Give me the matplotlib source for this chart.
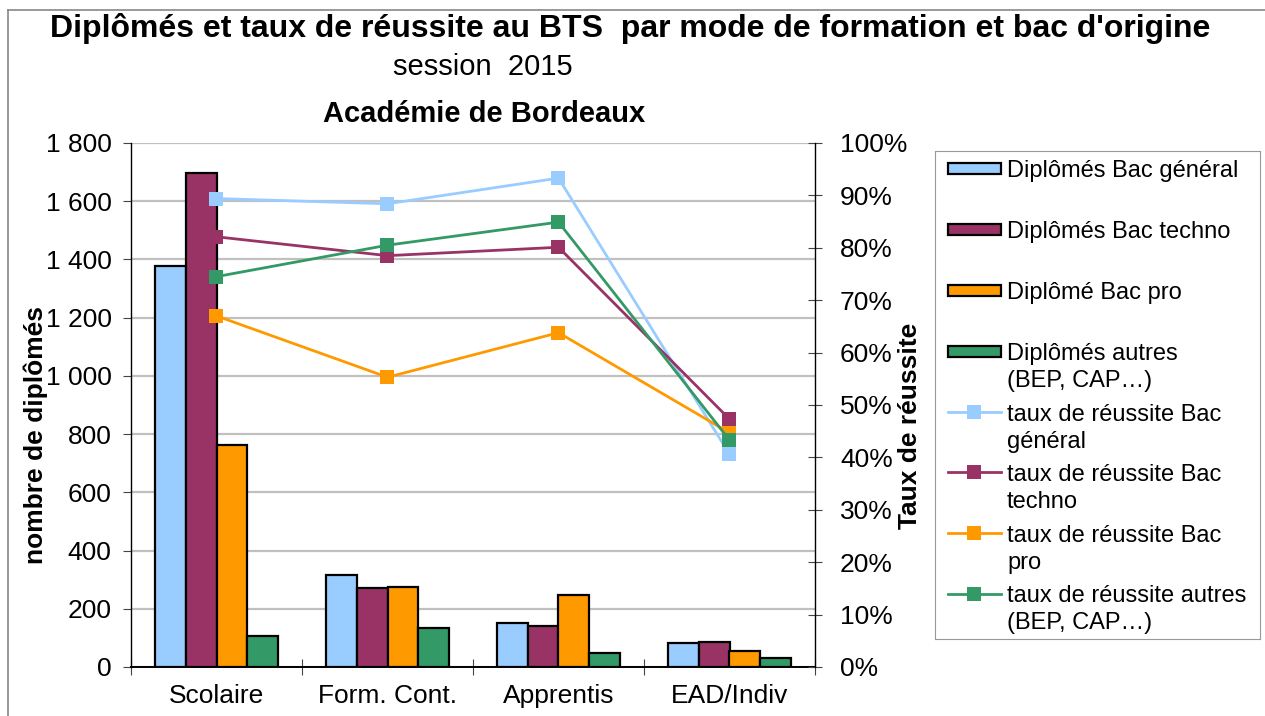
import matplotlib
matplotlib.use("Agg")
import matplotlib.pyplot as plt
import numpy as np
from matplotlib.lines import Line2D
from matplotlib.patches import Rectangle
from matplotlib.ticker import FuncFormatter, PercentFormatter, MultipleLocator, FixedLocator

plt.rcParams['font.family'] = ['Liberation Sans', 'DejaVu Sans']

categories = ["Scolaire", "Form. Cont.", "Apprentis", "EAD/Indiv"]

dipl_general = [1378, 317, 151, 82]
dipl_techno = [1697, 270, 140, 86]
dipl_pro = [763, 276, 247, 54]
dipl_autres = [106, 135, 48, 32]

taux_general = [0.894, 0.884, 0.933, 0.406]
taux_techno = [0.821, 0.785, 0.801, 0.473]
taux_pro = [0.670, 0.553, 0.638, 0.447]
taux_autres = [0.745, 0.805, 0.849, 0.433]

bar_labels = ["Diplômés Bac général", "Diplômés Bac techno", "Diplômé Bac pro",
              "Diplômés autres\n(BEP, CAP…)"]
line_labels = ["taux de réussite Bac\ngénéral", "taux de réussite Bac\ntechno",
               "taux de réussite Bac\npro", "taux de réussite autres\n(BEP, CAP…)"]
colors = ["#99CCFF", "#993366", "#FF9900", "#339966"]

W, H = 1265, 716
fig = plt.figure(figsize=(W / 100, H / 100), dpi=100)

def fx(px):
    return px / W

def fy(py):
    return 1 - py / H

ax = fig.add_axes([fx(131), fy(667), fx(815 - 131), (667 - 143) / H])
x = np.arange(len(categories))
bw = 0.18
bars = [dipl_general, dipl_techno, dipl_pro, dipl_autres]
for i, (vals, c) in enumerate(zip(bars, colors)):
    ax.bar(x + (i - 1.5) * bw, vals, bw, color=c, edgecolor="black", linewidth=1.6, zorder=3)

ax.set_xlim(-0.5, 3.5)
ax.set_ylim(0, 1800)
ax.yaxis.set_major_locator(MultipleLocator(200))
ax.yaxis.set_major_formatter(FuncFormatter(lambda v, p: f"{int(v):,}".replace(",", " ")))
ax.grid(axis="y", color="#c0c0c0", linewidth=1.6, zorder=0)
ax.set_axisbelow(True)
ax.set_xticks(x)
ax.set_xticklabels(categories)
ax.xaxis.set_minor_locator(FixedLocator(np.arange(-0.5, 4, 1)))
ax.tick_params(axis="x", which="major", length=0, labelsize=19, pad=12)
ax.tick_params(axis="x", which="minor", direction="inout", length=12, width=0.8, color="#444444")
ax.tick_params(axis="y", which="major", direction="out", length=6, width=0.8, labelsize=19, pad=8,
               color="#444444")
ax.spines["top"].set_visible(False)
ax.spines["left"].set_linewidth(1.0)
ax.spines["bottom"].set_linewidth(1.4)
ax.spines["right"].set_visible(False)

ax2 = ax.twinx()
taux = [taux_general, taux_techno, taux_pro, taux_autres]
for vals, c in zip(taux, colors):
    ax2.plot(x, vals, color=c, linewidth=2, marker="s", markersize=10.5,
             markeredgewidth=0, zorder=4)
ax2.set_ylim(0, 1)
ax2.yaxis.set_major_locator(MultipleLocator(0.1))
ax2.yaxis.set_major_formatter(PercentFormatter(1.0, decimals=0))
ax2.tick_params(axis="y", direction="inout", length=10, width=0.8, labelsize=19, pad=13,
                color="#444444")
ax2.spines["top"].set_visible(False)
ax2.spines["left"].set_visible(False)
ax2.spines["bottom"].set_visible(False)
ax2.spines["right"].set_linewidth(1.0)

# axis titles
fig.text(fx(36), fy(435), "nombre de diplômés", rotation=90, ha="center", va="center",
         fontsize=19, fontweight="bold")
fig.text(fx(910), fy(426), "Taux de réussite", rotation=90, ha="center", va="center",
         fontsize=19, fontweight="bold")

# titles
fig.text(fx(630), fy(28), "Diplômés et taux de réussite au BTS  par mode de formation et bac d'origine",
         ha="center", va="center", fontsize=23, fontweight="bold")
fig.text(fx(483), fy(67), "session  2015", ha="center", va="center", fontsize=21)
fig.text(fx(484), fy(114), "Académie de Bordeaux", ha="center", va="center", fontsize=21,
         fontweight="bold")

# figure border (top and left)
fig.add_artist(Line2D([fx(8), 1], [fy(10), fy(10)], color="#888888", linewidth=1.2))
fig.add_artist(Line2D([fx(8), fx(8)], [fy(10), 0], color="#888888", linewidth=1.2))

# legend drawn manually
lx0, ly0, lx1, ly1 = 935, 151, 1260, 639
lax = fig.add_axes([fx(lx0), fy(ly1), fx(lx1 - lx0), (ly1 - ly0) / H])
lax.set_xlim(0, lx1 - lx0)
lax.set_ylim(ly1 - ly0, 0)
lax.set_xticks([])
lax.set_yticks([])
for s in lax.spines.values():
    s.set_color("#999999")
    s.set_linestyle((0, (1, 1)))
    s.set_linewidth(0.8)
row_y = [17, 78, 139, 200, 261, 321, 382, 443]
line_h = 27
for i in range(4):
    yy = row_y[i]
    lax.add_patch(Rectangle((13, yy - 5.5), 53, 11, facecolor=colors[i], edgecolor="black",
                            linewidth=1.6))
    for k, ln in enumerate(bar_labels[i].split("\n")):
        lax.text(72, yy + k * line_h, ln, fontsize=17, va="center_baseline", ha="left")
for i in range(4):
    yy = row_y[4 + i]
    lax.plot([13, 66], [yy, yy], color=colors[i], linewidth=2)
    lax.plot([39.5], [yy], marker="s", markersize=10.5, color=colors[i], markeredgewidth=0)
    for k, ln in enumerate(line_labels[i].split("\n")):
        lax.text(72, yy + k * line_h, ln, fontsize=17, va="center_baseline", ha="left")

fig.savefig("out.png", dpi=100)
